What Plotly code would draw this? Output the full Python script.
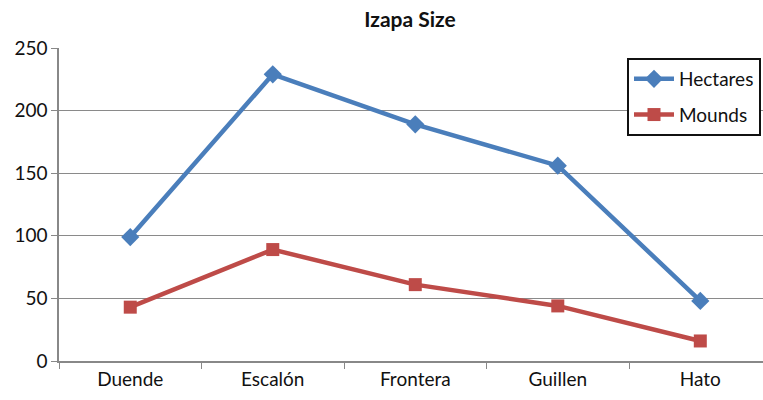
import plotly.graph_objects as go

categories = ["Duende", "Escalón", "Frontera", "Guillen", "Hato"]
hectares = [99, 229, 189, 156, 48]
mounds = [43, 89, 61, 44, 16]
y_ticks = [0, 50, 100, 150, 200, 250]

FONT = "Lato, Open Sans, sans-serif"
BLUE = "#4A7EBB"
RED = "#BE4B48"

fig = go.Figure()
fig.add_trace(go.Scatter(
    x=categories, y=hectares, name="Hectares", mode="lines+markers",
    line=dict(color=BLUE, width=4.5),
    marker=dict(symbol="diamond", size=14, color=BLUE),
    legendgroup="a",
))
fig.add_trace(go.Scatter(
    x=categories, y=mounds, name="Mounds", mode="lines+markers",
    line=dict(color=RED, width=4.5),
    marker=dict(symbol="square", size=13, color=RED),
    legendgroup="b",
))

fig.update_layout(
    width=763, height=400,
    margin=dict(l=59, r=0, t=48, b=39),
    paper_bgcolor="white", plot_bgcolor="white",
    font=dict(family=FONT, size=18, color="#111"),
    title=dict(text="<b>Izapa Size</b>", x=(410 - 59) / 704, xref="paper", xanchor="center",
               y=0.95, yanchor="middle", font=dict(size=21, color="#111")),
    legend=dict(x=(627 - 59) / 704, y=(361 - 58) / 313, xanchor="left", yanchor="top",
                bordercolor="#111", borderwidth=2, bgcolor="white",
                font=dict(size=19, color="#111"), tracegroupgap=8,
                traceorder="grouped", itemwidth=40),
    showlegend=True,
)
fig.update_xaxes(
    type="category", range=[-0.5, 4.44], tickson="boundaries",
    ticks="outside", ticklen=6, tickcolor="#888", showline=True, linecolor="#888",
    linewidth=1.5, showgrid=False, tickfont=dict(size=19, color="#111"),
    automargin=False,
)
fig.update_yaxes(
    range=[0, 250], tickvals=y_ticks, ticks="outside", ticklen=6, tickcolor="#888",
    showline=True, linecolor="#888", linewidth=1.5, showgrid=True, gridcolor="#8a8a8a",
    gridwidth=1.2, zeroline=False, tickfont=dict(size=19, color="#111"),
    automargin=False,
)

fig.write_html("out.html", config={"displayModeBar": False})

with open("out.html", "r", encoding="utf-8") as f:
    html = f.read()
html = html.replace("<body>", "<body style=\"margin:0;padding:0;\">", 1)
html = html.replace("<head>", "<head><style>html,body{margin:0;padding:0;overflow:hidden;}</style>", 1)
with open("out.html", "w", encoding="utf-8") as f:
    f.write(html)
